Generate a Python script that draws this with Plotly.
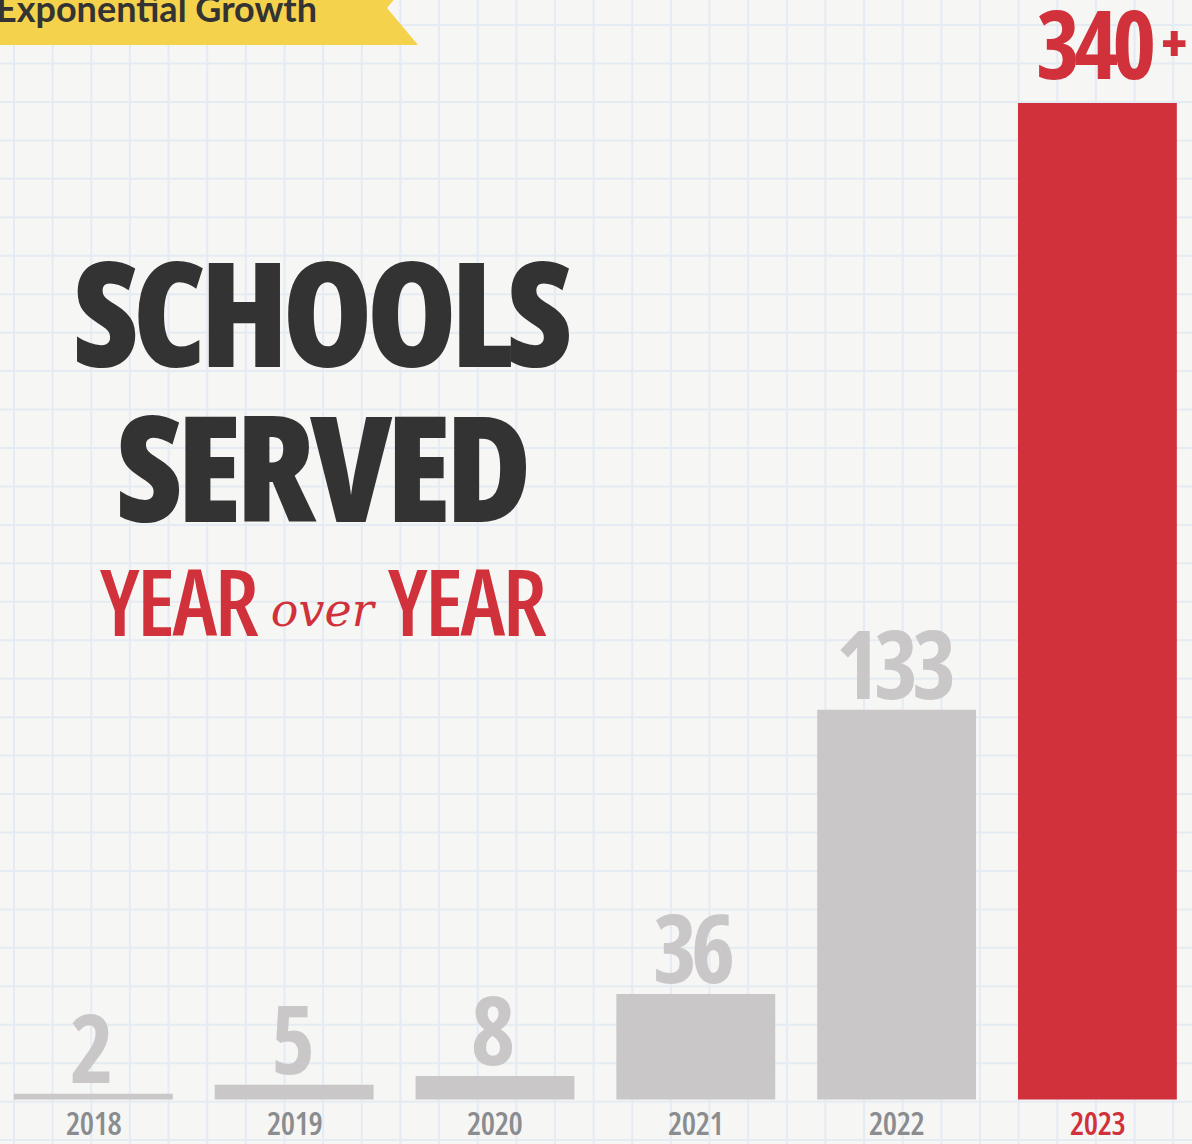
import plotly.graph_objects as go

# ---- data ----
years = ["2018", "2019", "2020", "2021", "2022", "2023"]
schools = [2, 5, 8, 36, 133, 340]
value_labels = ["2", "5", "8", "36", "133", "340+"]

W, H = 1192, 1144
BG = "#f6f6f4"
GRID = "#e4ebf3"
GRAY_BAR = "#c9c7c8"
GRAY_YEAR = "#8a8c8f"
RED = "#d0313a"
DARK = "#333333"
COND = "font-stretch:75%"

def px(x):
    return x / W

def py(y):
    return 1 - y / H

xpos = list(range(len(years)))
bar_colors = [GRAY_BAR] * (len(years) - 1) + [RED]
year_colors = [GRAY_YEAR] * (len(years) - 1) + [RED]

fig = go.Figure()
fig.add_trace(go.Bar(
    x=xpos, y=schools,
    marker=dict(color=bar_colors, line=dict(width=0)),
    hoverinfo="skip",
))

shapes = []
# graph-paper grid
gx = 14.0
while gx < W:
    shapes.append(dict(type="line", xref="paper", yref="paper",
                       x0=px(gx), x1=px(gx), y0=0, y1=1,
                       line=dict(color=GRID, width=2), layer="below"))
    gx += 38.64
gy = 63.5 - 38.45
while gy < H:
    shapes.append(dict(type="line", xref="paper", yref="paper",
                       x0=0, x1=1, y0=py(gy), y1=py(gy),
                       line=dict(color=GRID, width=2), layer="below"))
    gy += 38.45

# banner
pts = [(-5, -30), (418, -30), (387, 8), (418, 45), (-5, 45)]
path = "M " + " L ".join(f"{px(a):.5f},{py(b):.5f}" for a, b in pts) + " Z"
shapes.append(dict(type="path", xref="paper", yref="paper", path=path,
                   fillcolor="#f5d24b", line=dict(width=0), layer="above"))

annotations = []
annotations.append(dict(
    text="<b>Exponential Growth</b>", xref="paper", yref="paper",
    x=px(-6), y=py(8), xanchor="left", yanchor="middle", showarrow=False,
    font=dict(family="Lato", size=36, color=DARK)))

annotations.append(dict(
    text=f"<span style='{COND};letter-spacing:-6px'>SCHOOLS</span>", xref="paper", yref="paper",
    x=px(321.5), y=py(310), xanchor="center", yanchor="middle", showarrow=False,
    font=dict(family="Open Sans", size=145, color=DARK, weight=800)))
annotations.append(dict(
    text=f"<span style='{COND};letter-spacing:-6px'>SERVED</span>", xref="paper", yref="paper",
    x=px(320.5), y=py(465), xanchor="center", yanchor="middle", showarrow=False,
    font=dict(family="Open Sans", size=147, color=DARK, weight=800)))
annotations.append(dict(
    text=(f"<span style='{COND};letter-spacing:-2.5px'>YEAR </span>"
          "<span style=\"font-family:'DejaVu Serif';font-style:italic;font-size:46px;"
          "font-weight:400;baseline-shift:10px;letter-spacing:0px\">over</span>"
          f"<span style='{COND};letter-spacing:-2.5px'> YEAR</span>"),
    xref="paper", yref="paper",
    x=px(323), y=py(600), xanchor="center", yanchor="middle", showarrow=False,
    font=dict(family="Open Sans", size=92, color=RED, weight=600)))

for xi, v, lab, c, yc in zip(xpos, schools, value_labels, bar_colors, year_colors):
    if lab.endswith("+"):
        txt = (f"<span style='{COND};letter-spacing:-6px'>{lab[:-1]} "
               f"<span style='font-size:52px;font-weight:800;baseline-shift:17px;"
               f"letter-spacing:0px'>+</span></span>")
        shift = 60
        xs = 14
    else:
        txt = f"<span style='{COND};letter-spacing:-6px'>{lab}</span>"
        shift = 47
        xs = -3
    annotations.append(dict(
        text=txt, x=xi, y=v, xref="x", yref="y", xanchor="center", yanchor="middle",
        yshift=shift, xshift=xs, showarrow=False,
        font=dict(family="Open Sans", size=94, color=c, weight=700)))
    annotations.append(dict(
        text=f"<span style='{COND};letter-spacing:-0.5px'>{years[xi]}</span>", x=xi, y=0,
        xref="x", yref="y",
        xanchor="center", yanchor="middle", yshift=-23, showarrow=False,
        font=dict(family="Open Sans", size=32, color=yc, weight=600)))

k = 996.5 / 340.0
fig.update_layout(
    width=W, height=H,
    margin=dict(l=0, r=0, t=0, b=0),
    paper_bgcolor=BG, plot_bgcolor="rgba(0,0,0,0)",
    bargap=0.209,
    showlegend=False,
    shapes=shapes,
    annotations=annotations,
    xaxis=dict(range=[-0.465, 5.471], showticklabels=False, showgrid=False,
               zeroline=False, showline=False, ticks="", fixedrange=True),
    yaxis=dict(range=[-44.5 / k, 1099.5 / k], showticklabels=False, showgrid=False,
               zeroline=False, showline=False, ticks="", fixedrange=True),
)

fig.write_html("out.html", config={"displayModeBar": False},
               post_script="document.body.style.margin='0';document.body.style.overflow='hidden';")
